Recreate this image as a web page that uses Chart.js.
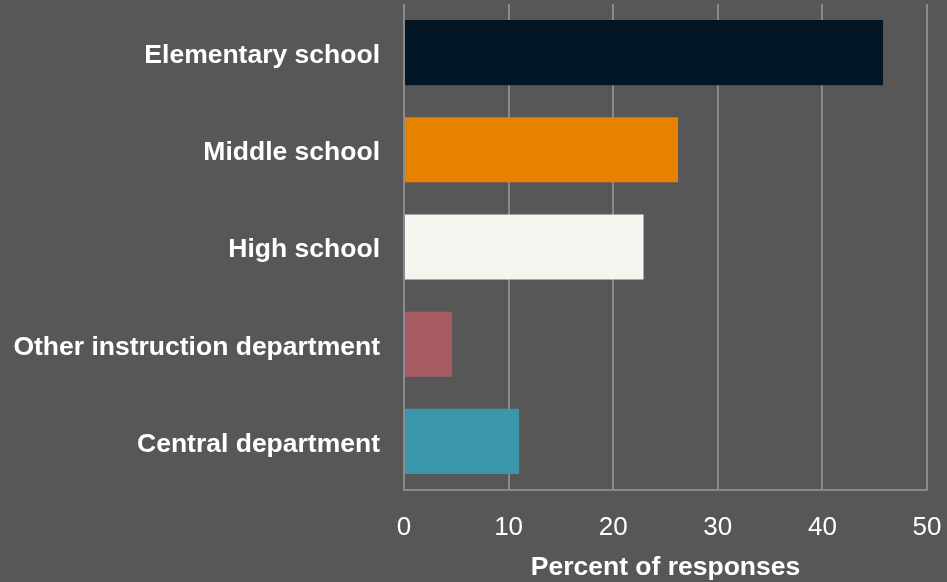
<!DOCTYPE html>
<html>
<head>
<meta charset="utf-8">
<script src="https://cdn.jsdelivr.net/npm/chart.js@4"></script>
<style>
  html, body { margin: 0; padding: 0; background: #575757; }
  #wrap { width: 947px; height: 582px; }
</style>
</head>
<body>
<div id="wrap"><canvas id="bar_chart" width="947" height="582"></canvas></div>
<script>
const categories = [
  "Elementary school",
  "Middle school",
  "High school",
  "Other instruction department",
  "Central department"
];
const percents = [45.8, 26.2, 22.9, 4.6, 11.0];
const barColors = ["#021626", "#e88000", "#f5f4ee", "#a65c62", "#3a96ab"];
const xTicks = [0, 10, 20, 30, 40, 50];

const gridGrey = "#8a8a8a";
const font = "'Liberation Sans', Arial, sans-serif";

const ctx = document.getElementById("bar_chart").getContext("2d");
const chart = new Chart(ctx, {
  type: "bar",
  data: {
    labels: categories,
    datasets: [
      {
        label: "Percent of responses",
        data: percents,
        backgroundColor: barColors,
        borderWidth: 0,
        categoryPercentage: 1,
        barPercentage: 0.67,
      },
    ],
  },
  options: {
    indexAxis: "y",
    responsive: false,
    animation: false,
    layout: { padding: { top: 4, right: 20, left: 0, bottom: 0 } },
    plugins: {
      legend: { display: false },
      tooltip: { enabled: false },
    },
    scales: {
      x: {
        min: 0,
        max: 50,
        afterBuildTicks: (axis) => {
          axis.ticks = xTicks.map((v) => ({ value: v }));
        },
        afterFit: (axis) => {
          axis.height = 92;
        },
        grid: {
          color: gridGrey,
          lineWidth: 2,
          drawTicks: true,
          tickLength: 22,
          tickColor: "rgba(0,0,0,0)",
        },
        border: { display: true, color: gridGrey, width: 2 },
        ticks: {
          color: "#ffffff",
          padding: 0,
          font: { family: font, size: 26 },
        },
        title: {
          display: true,
          text: "Percent of responses",
          color: "#ffffff",
          padding: { top: 0, bottom: -2 },
          font: { family: font, size: 26.5, weight: "bold" },
        },
      },
      y: {
        afterFit: (axis) => {
          axis.width = 404;
        },
        // tick marks hidden with the grid, the length just spaces the labels
        grid: { display: false, drawTicks: true, tickLength: 24 },
        border: { display: false },
        ticks: {
          color: "#ffffff",
          padding: 0,
          labelOffset: 3,
          font: { family: font, size: 26.5, weight: "bold", lineHeight: 0.3 },
        },
      },
    },
  },
});
</script>
</body>
</html>
